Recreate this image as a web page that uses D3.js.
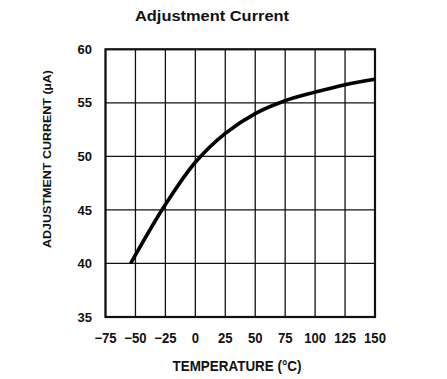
<!DOCTYPE html>
<html><head><meta charset="utf-8">
<script src="https://cdn.jsdelivr.net/npm/d3@7"></script>
<style>body{margin:0;background:#fff}svg{display:block}text{fill:#111}</style>
</head><body>
<svg id="c" width="447" height="379"></svg>
<script>
const temps = [-54, -25, 0, 25, 50, 75, 100, 125, 150];
const current = [40.0, 45.5, 49.45, 52.15, 54.0, 55.2, 56.0, 56.7, 57.2];
const xTicks = [-75, -50, -25, 0, 25, 50, 75, 100, 125, 150];
const yTicks = [35, 40, 45, 50, 55, 60];
const title = "Adjustment Current";
const xTitle = "TEMPERATURE (°C)";
const yTitle = "ADJUSTMENT CURRENT (µA)";

const svg = d3.select("#c");
const L = 105.5, R = 375, T = 49.3, B = 317;
const x = d3.scaleLinear().domain([-75, 150]).range([L, R]);
const y = d3.scaleLinear().domain([35, 60]).range([B, T]);
const fnt = "'Liberation Sans',Arial,sans-serif";

svg.append("text").attr("x", 212).attr("y", 21).attr("text-anchor", "middle")
  .attr("font-family", fnt).attr("font-weight", "bold")
  .attr("font-size", 14).attr("textLength", 154).attr("lengthAdjust", "spacingAndGlyphs").text(title);

// grid
const g = svg.append("g");
g.selectAll("line.v").data(xTicks).join("line")
  .attr("x1", d => x(d)).attr("x2", d => x(d)).attr("y1", T).attr("y2", B)
  .attr("stroke", "#111").attr("stroke-width", 1.3);
g.selectAll("line.h").data(yTicks).join("line")
  .attr("x1", L).attr("x2", R).attr("y1", d => y(d)).attr("y2", d => y(d))
  .attr("stroke", "#111").attr("stroke-width", 1.3);
g.append("rect").attr("x", L).attr("y", T).attr("width", R - L).attr("height", B - T)
  .attr("fill", "none").attr("stroke", "#111").attr("stroke-width", 2.2);

// tick labels
svg.selectAll("text.yt").data(yTicks).join("text")
  .attr("x", 92).attr("y", d => y(d) + 4.6).attr("text-anchor", "end")
  .attr("font-family", fnt).attr("font-weight", "bold").attr("font-size", 13)
  .text(d => d);
svg.selectAll("text.xt").data(xTicks).join("text")
  .attr("transform", d => `translate(${x(d)},342.7) scale(0.95,1)`).attr("text-anchor", "middle")
  .attr("font-family", fnt).attr("font-weight", "bold").attr("font-size", 13.8)
  .text(d => d < 0 ? "\u2212" + Math.abs(d) : d);

svg.append("text").attr("x", 237).attr("y", 370.7).attr("text-anchor", "middle")
  .attr("font-family", fnt).attr("font-weight", "bold").attr("font-size", 14)
  .attr("textLength", 129).attr("lengthAdjust", "spacingAndGlyphs").text(xTitle);
svg.append("text").attr("transform", "translate(51,159) rotate(-90)").attr("text-anchor", "middle")
  .attr("font-family", fnt).attr("font-weight", "bold").attr("font-size", 11.5)
  .attr("textLength", 178).attr("lengthAdjust", "spacingAndGlyphs").text(yTitle);

// curve
const line = d3.line().x((d, i) => x(temps[i])).y(d => y(d)).curve(d3.curveCatmullRom.alpha(0.5));
svg.append("path").datum(current).attr("d", line).attr("fill", "none")
  .attr("stroke", "#000").attr("stroke-width", 3.6);
</script>
</body></html>
